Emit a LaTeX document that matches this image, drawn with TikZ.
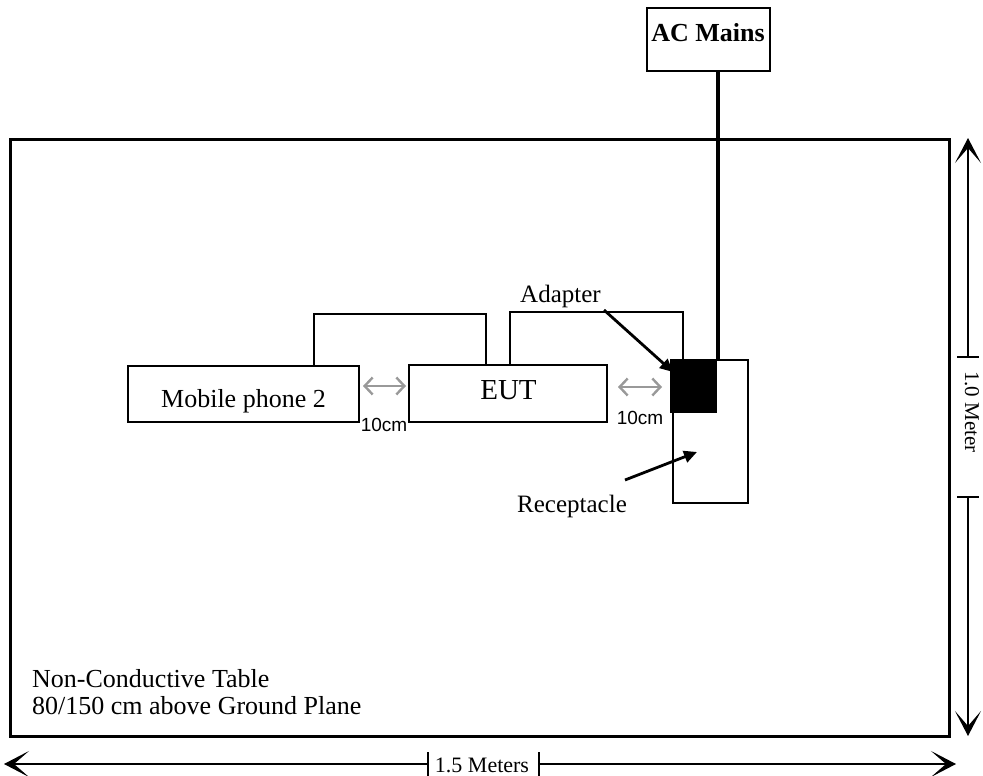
\documentclass[tikz,border=0pt]{standalone}
\usepackage{fontspec}
\setmainfont{Liberation Serif}
\newfontfamily\arialf{Liberation Sans}
\usetikzlibrary{arrows.meta}
\begin{document}
\begin{tikzpicture}[x=1pt,y=-1pt,
  box/.style={draw, line width=1.6pt, inner sep=0pt},
  lbl/.style={inner sep=0pt, anchor=base west, font=\fontsize{25}{28}\selectfont},
  cable/.style={line width=1.4pt},
  gapar/.style={draw=black!40, line width=2.4pt, {Straight Barb[length=8pt,width=17pt]}-{Straight Barb[length=8pt,width=17pt]}},
  ptr/.style={line width=2.8pt, -{Triangle[length=13pt,width=12pt]}},
  dimline/.style={line width=1.3pt},
  dimtip/.style={-{Stealth[length=25pt,width=26pt,inset=15pt]}},
  cmtext/.style={inner sep=0pt, font=\arialf\fontsize{19}{22}\selectfont},
]
\useasboundingbox (0,0) rectangle (983,776);

% table frame
\node[draw, line width=3pt, inner sep=0pt, minimum width=939pt, minimum height=597pt] (table) at (479.5,437.5) {};

% AC mains
\node[box, minimum width=123pt, minimum height=63pt] (ac) at (708.5,39.5) {};
\node[inner sep=0pt, anchor=base, font=\bfseries\fontsize{26}{30}\selectfont] (actext) at (708,42) {AC Mains};

% boxes
\node[box, minimum width=231pt, minimum height=56pt] (mob) at (243.5,394) {};
\node[inner sep=0pt, anchor=base, font=\fontsize{26}{30}\selectfont] (mobtext) at (243.5,407) {Mobile phone 2};
\node[box, minimum width=198pt, minimum height=57pt] (eut) at (508,393.5) {};
\node[inner sep=0pt, anchor=base, font=\fontsize{29}{32}\selectfont] (euttext) at (508.5,399) {EUT};

% receptacle and adapter
\node[box, minimum width=75pt, minimum height=143pt] (rec) at (710.5,431.5) {};
\node[fill=black, inner sep=0pt, minimum width=47pt, minimum height=54pt] (adp) at (693.5,386) {};

% AC line
\coordinate (acend) at (717.5,359);
\draw[line width=4pt] (ac.south -| acend) -- (acend);

% cables
\coordinate (c1a) at (314,314);
\coordinate (c1b) at (486,314);
\draw[cable] (mob.north -| c1a) -- (c1a) -- (c1b) -- (eut.north -| c1b);
\coordinate (c2a) at (510,312);
\coordinate (c2b) at (683,312);
\draw[cable] (eut.north -| c2a) -- (c2a) -- (c2b) -- (adp.north -| c2b);

% gap arrows
\coordinate (g1a) at (363,386);
\coordinate (g1b) at (406,386);
\draw[gapar] (g1a) -- (g1b);
\coordinate (g2a) at (618,387);
\coordinate (g2b) at (662,387);
\draw[gapar] (g2a) -- (g2b);
\node[cmtext] (cm1) at (384,425) {10cm};
\node[cmtext] (cm2) at (640,418) {10cm};

% labels with pointers
\node[lbl] (adtext) at (520,302) {Adapter};
\coordinate (adtail) at (604,310);
\coordinate (adtip) at (673,372);
\draw[ptr] (adtail) -- (adtip);
\node[lbl] (rectext) at (517,512) {Receptacle};
\coordinate (rectail) at (625,480);
\coordinate (rectip) at (697,452);
\draw[ptr] (rectail) -- (rectip);

% table text
\node[lbl, font=\fontsize{26}{30}\selectfont] (t1) at (32,687) {Non-Conductive Table};
\node[lbl, font=\fontsize{26}{30}\selectfont] (t2) at (32,714) {80/150 cm above Ground Plane};

% horizontal dimension
\coordinate (hl) at (4,764);
\coordinate (hr) at (956,764);
\coordinate (hk1) at (428,764);
\coordinate (hk2) at (539,764);
\draw[dimline, dimtip] (hk1) -- (hl);
\draw[dimline, dimtip] (hk2) -- (hr);
\draw[dimline] (428,752) -- (428,776);
\draw[dimline] (539,752) -- (539,776);
\node[inner sep=0pt, anchor=base, font=\fontsize{22}{24}\selectfont] (hdim) at (482,772) {1.5 Meters};

% vertical dimension
\coordinate (vt) at (968,138);
\coordinate (vb) at (968,736);
\coordinate (vk1) at (968,357);
\coordinate (vk2) at (968,497);
\draw[dimline, dimtip] (vk1) -- (vt);
\draw[dimline, dimtip] (vk2) -- (vb);
\draw[dimline] (957,357) -- (979,357);
\draw[dimline] (957,497) -- (979,497);
\node[inner sep=0pt, anchor=base, rotate=-90, font=\fontsize{21}{24}\selectfont] (vdim) at (965,412) {1.0 Meter};
\end{tikzpicture}
\end{document}
